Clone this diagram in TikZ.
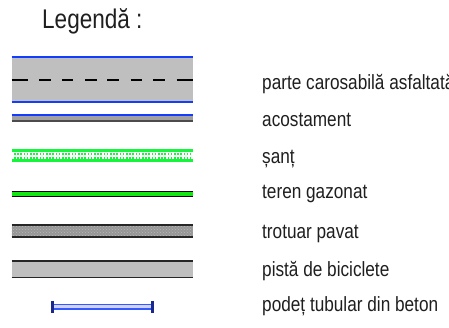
\documentclass[tikz,border=0pt]{standalone}
\usepackage{fontspec}
\setmainfont{Liberation Sans}[FakeStretch=0.835]
\usetikzlibrary{patterns}
\definecolor{roadgray}{RGB}{191,191,191}
\definecolor{roadblue}{RGB}{20,60,255}
\definecolor{shgreen}{RGB}{20,245,60}
\definecolor{grassgreen}{RGB}{20,230,20}
\definecolor{pavegray}{RGB}{160,160,160}
\definecolor{trotgray}{RGB}{150,150,150}
\definecolor{culvblue}{RGB}{50,90,255}
\definecolor{culvnavy}{RGB}{25,40,140}
\begin{document}
\begin{tikzpicture}[x=1pt,y=-1pt,
  lbl/.style={anchor=base west, inner sep=0pt, font=\fontsize{20.6}{24}\selectfont, text=black!88},
  ttl/.style={anchor=base west, inner sep=0pt, font=\fontsize{27}{30}\selectfont, text=black!88},
  blueline/.style={draw=roadblue, line width=2},
  darkline/.style={draw=black!85, line width=1.5}]
\useasboundingbox (0,0) rectangle (449,327);
\fill[white] (0,0) rectangle (449,327);

% title
\node[ttl] (title) at (42,28.5) {Legendă :};

% parte carosabila
\fill[roadgray] (11.7,57) rectangle (192.7,102);
\draw[blueline] (11.7,57) -- (192.7,57);
\draw[blueline] (11.7,102) -- (192.7,102);
\foreach \a/\b in {11.7/27.7, 39.3/50.7, 62.3/73.3, 85/96.7, 107.3/119.3, 130.7/141.7, 153.3/165, 176.7/192.7}
  \draw[black, line width=2] (\a,80) -- (\b,80);
\node[lbl] (l1) at (262,89) {parte carosabilă asfaltată};

% acostament
\fill[pavegray] (11.7,115) rectangle (192.7,120.5);
\draw[blueline] (11.7,114.5) -- (192.7,114.5);
\draw[draw=black!70, line width=1.5] (11.7,121) -- (192.7,121);
\node[lbl] (l2) at (262,126) {acostament};

% sant
\fill[shgreen] (11.7,149.3) rectangle (192.7,152.3);
\fill[shgreen] (11.7,159.3) rectangle (192.7,162.3);
\draw[shgreen, line width=2, dash pattern=on 1.6 off 1.6] (14,153.6) -- (190.5,153.6);
\draw[shgreen, line width=2, dash pattern=on 1.6 off 1.6] (14,158) -- (190.5,158);
\node[lbl] (l3) at (262,163) {șanț};

% teren gazonat
\fill[grassgreen] (11.7,191.5) rectangle (192.7,196);
\draw[black, line width=1.2] (11.7,191.3) -- (192.7,191.3);
\draw[black, line width=1.2] (11.7,196.2) -- (192.7,196.2);
\node[lbl] (l4) at (262,198.5) {teren gazonat};

% trotuar pavat
\fill[trotgray] (11.7,225) rectangle (192.7,237);
\fill[pattern=crosshatch dots, pattern color=gray!55] (11.7,226) rectangle (192.7,236);
\draw[darkline] (11.7,225) -- (192.7,225);
\draw[darkline] (11.7,237) -- (192.7,237);
\node[lbl] (l5) at (262,238) {trotuar pavat};

% pista de biciclete
\fill[roadgray] (11.7,261) rectangle (192.7,277.5);
\draw[darkline] (11.7,261) -- (192.7,261);
\draw[darkline] (11.7,277.5) -- (192.7,277.5);
\node[lbl] (l6) at (262,276) {pistă de biciclete};

% podet tubular
\fill[blue!18] (52,304.5) rectangle (153,309);
\draw[culvblue, line width=1.2] (52,304.5) -- (153,304.5);
\draw[culvblue, line width=1.2] (52,309) -- (153,309);
\draw[culvnavy, line width=3] (52.5,300.7) -- (52.5,312.7);
\draw[culvnavy, line width=3] (152.5,300.7) -- (152.5,312.7);
\node[lbl] (l7) at (262,311) {podeț tubular din beton};
\end{tikzpicture}
\end{document}
